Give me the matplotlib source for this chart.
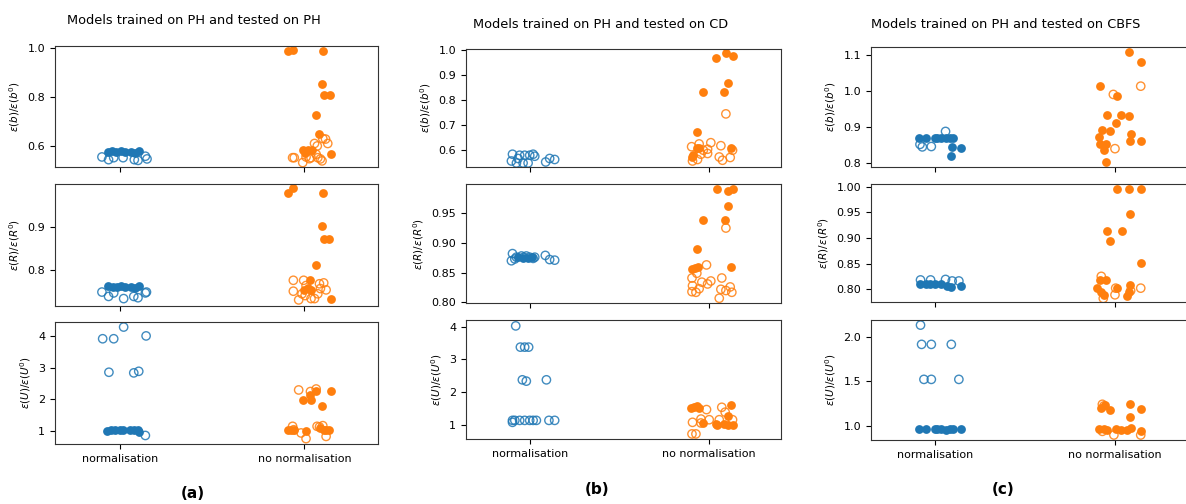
import matplotlib
matplotlib.use("Agg")
import matplotlib.pyplot as plt

W, H = 1186, 504

cases = ["PH", "CD", "CBFS"]
metrics = ["b", "R", "U"]
categories = ["normalisation", "no normalisation"]
panel_letters = ["(a)", "(b)", "(c)"]

# each point: (jitter, value, filled)
PH_b_norm = [(-0.069, 0.576, 1), (-0.045, 0.580, 1), (-0.022, 0.576, 1), (0.004, 0.580, 1),
             (0.027, 0.576, 1), (0.058, 0.576, 1), (0.082, 0.571, 1), (0.100, 0.580, 1),
             (-0.100, 0.555, 0), (-0.064, 0.544, 0), (-0.036, 0.552, 0), (0.015, 0.552, 0),
             (0.076, 0.544, 0), (0.096, 0.541, 0), (0.136, 0.558, 0), (0.145, 0.547, 0)]
PH_b_raw = [(-0.091, 0.988, 1), (-0.064, 0.990, 1), (0.100, 0.988, 1), (0.095, 0.854, 1),
            (0.105, 0.808, 1), (0.138, 0.808, 1), (0.064, 0.725, 1), (0.082, 0.648, 1),
            (-0.009, 0.585, 1), (0.018, 0.585, 1), (0.040, 0.585, 1), (0.004, 0.571, 1),
            (0.145, 0.566, 1),
            (0.055, 0.610, 0), (0.100, 0.630, 0), (0.127, 0.610, 0), (0.115, 0.628, 0),
            (-0.064, 0.552, 0), (-0.009, 0.532, 0), (0.009, 0.555, 0), (0.027, 0.548, 0),
            (0.064, 0.566, 0), (0.073, 0.552, 0), (0.087, 0.547, 0), (0.096, 0.539, 0),
            (0.036, 0.552, 0), (-0.055, 0.552, 0), (0.070, 0.600, 0)]

PH_R_norm = [(-0.069, 0.763, 1), (-0.040, 0.762, 1), (-0.018, 0.762, 1), (0.004, 0.763, 1),
             (0.027, 0.762, 1), (0.058, 0.762, 1), (0.082, 0.760, 1), (0.100, 0.764, 1),
             (-0.100, 0.750, 0), (-0.064, 0.740, 0), (-0.036, 0.748, 0), (0.018, 0.735, 0),
             (0.073, 0.740, 0), (0.096, 0.737, 0), (0.136, 0.748, 0), (0.142, 0.750, 0)]
PH_R_raw = [(-0.087, 0.977, 1), (-0.064, 0.988, 1), (0.100, 0.977, 1), (0.095, 0.902, 1),
            (0.105, 0.872, 1), (0.136, 0.872, 1), (0.064, 0.812, 1), (0.033, 0.778, 1),
            (0.000, 0.755, 1), (0.018, 0.760, 1), (0.036, 0.755, 1), (0.145, 0.735, 1),
            (-0.060, 0.777, 0), (-0.060, 0.752, 0), (-0.004, 0.777, 0), (0.009, 0.765, 0),
            (0.073, 0.746, 0), (0.082, 0.769, 0), (0.105, 0.771, 0), (0.118, 0.755, 0),
            (0.087, 0.758, 0), (-0.031, 0.732, 0), (0.004, 0.742, 0), (0.036, 0.735, 0),
            (0.055, 0.735, 0), (-0.013, 0.746, 0)]

PH_U_norm = [(-0.073, 1.00, 1), (-0.049, 1.03, 1), (-0.027, 1.01, 1), (0.000, 1.01, 1),
             (0.015, 1.03, 1), (0.055, 1.03, 1), (0.073, 1.01, 1), (0.095, 1.01, 1),
             (0.102, 0.95, 1),
             (-0.096, 3.91, 0), (-0.036, 3.91, 0), (0.018, 4.28, 0), (0.140, 4.00, 0),
             (-0.062, 2.85, 0), (0.073, 2.83, 0), (0.100, 2.88, 0), (0.136, 0.85, 0)]
PH_U_raw = [(-0.009, 1.98, 1), (0.036, 1.98, 1), (0.033, 2.13, 1), (0.064, 2.27, 1),
            (0.145, 2.26, 1), (0.095, 1.77, 1), (-0.087, 1.03, 1), (-0.073, 1.03, 1),
            (-0.055, 1.03, 1), (0.009, 0.98, 1), (0.087, 1.08, 1), (0.105, 1.01, 1),
            (0.136, 1.01, 1), (0.118, 1.03, 1),
            (-0.031, 2.29, 0), (0.033, 2.24, 0), (0.064, 2.32, 0), (-0.064, 1.14, 0),
            (-0.058, 1.03, 0), (-0.018, 0.93, 0), (0.009, 0.75, 0), (0.069, 1.14, 0),
            (0.100, 1.16, 0), (0.118, 0.82, 0), (0.082, 1.12, 0)]

CD_b_norm = [(-0.096, 0.585, 0), (-0.102, 0.558, 0), (-0.074, 0.550, 0), (-0.056, 0.581, 0),
             (-0.037, 0.550, 0), (-0.028, 0.581, 0), (-0.009, 0.550, 0), (0.000, 0.581, 0),
             (0.019, 0.585, 0), (0.028, 0.577, 0), (0.089, 0.554, 0), (0.111, 0.568, 0),
             (0.139, 0.564, 0), (-0.065, 0.568, 0)]
CD_b_raw = [(0.037, 0.969, 1), (0.096, 0.991, 1), (0.133, 0.977, 1), (-0.033, 0.835, 1),
            (0.102, 0.868, 1), (0.083, 0.835, 1), (-0.069, 0.673, 1), (-0.093, 0.581, 1),
            (-0.096, 0.574, 1), (-0.069, 0.611, 1), (-0.056, 0.608, 1), (0.120, 0.608, 1),
            (0.093, 0.746, 0), (-0.098, 0.615, 0), (-0.093, 0.558, 0), (-0.065, 0.564, 0),
            (-0.056, 0.626, 0), (-0.033, 0.601, 0), (-0.009, 0.588, 0), (0.009, 0.631, 0),
            (-0.009, 0.605, 0), (0.065, 0.619, 0), (0.056, 0.574, 0), (0.074, 0.561, 0),
            (0.117, 0.572, 0), (0.130, 0.601, 0), (-0.046, 0.585, 0)]

CD_R_norm = [(-0.065, 0.876, 1), (-0.037, 0.875, 1), (-0.009, 0.875, 1), (0.015, 0.876, 1),
             (-0.102, 0.870, 0), (-0.096, 0.882, 0), (-0.074, 0.876, 0), (-0.046, 0.878, 0),
             (-0.033, 0.876, 0), (-0.019, 0.878, 0), (0.000, 0.876, 0), (0.019, 0.874, 0),
             (0.028, 0.876, 0), (0.087, 0.879, 0), (0.111, 0.872, 0), (0.139, 0.871, 0),
             (-0.083, 0.873, 0)]
CD_R_raw = [(0.041, 0.990, 1), (0.102, 0.988, 1), (0.133, 0.990, 1), (0.106, 0.962, 1),
            (0.089, 0.938, 1), (-0.033, 0.938, 1), (-0.069, 0.890, 1), (-0.096, 0.856, 1),
            (-0.078, 0.858, 1), (-0.065, 0.859, 1), (0.120, 0.859, 1),
            (0.093, 0.925, 0), (-0.015, 0.863, 0), (-0.069, 0.849, 0), (-0.096, 0.841, 0),
            (-0.093, 0.828, 0), (-0.096, 0.818, 0), (-0.074, 0.817, 0), (-0.056, 0.823, 0),
            (-0.041, 0.834, 0), (-0.009, 0.831, 0), (0.009, 0.836, 0), (0.070, 0.841, 0),
            (0.065, 0.822, 0), (0.093, 0.820, 0), (0.117, 0.826, 0), (0.126, 0.817, 0),
            (0.056, 0.807, 0)]

CD_U_norm = [(-0.078, 4.02, 0), (-0.052, 3.37, 0), (-0.028, 3.37, 0), (-0.006, 3.37, 0),
             (-0.041, 2.37, 0), (-0.019, 2.33, 0), (0.093, 2.37, 0), (-0.096, 1.13, 0),
             (-0.096, 1.07, 0), (-0.083, 1.13, 0), (-0.056, 1.13, 0), (-0.028, 1.13, 0),
             (0.000, 1.13, 0), (0.019, 1.13, 0), (0.037, 1.13, 0), (0.107, 1.13, 0),
             (0.139, 1.13, 0)]
CD_U_raw = [(-0.102, 1.51, 1), (-0.083, 1.54, 1), (-0.069, 1.56, 1), (-0.059, 1.50, 1),
            (0.120, 1.59, 1), (0.107, 1.27, 1), (-0.033, 1.05, 1), (0.037, 1.02, 1),
            (0.083, 1.03, 1), (0.102, 1.00, 1), (0.130, 1.00, 1), (0.046, 1.00, 1),
            (-0.015, 1.46, 0), (0.070, 1.53, 0), (0.089, 1.38, 0), (-0.046, 1.17, 0),
            (0.000, 1.15, 0), (0.056, 1.15, 0), (-0.093, 1.07, 0), (-0.046, 1.05, 0),
            (0.130, 1.15, 0), (-0.096, 0.715, 0), (-0.074, 0.715, 0)]

CBFS_b_norm = [(-0.089, 0.871, 1), (-0.052, 0.871, 1), (-0.002, 0.871, 1), (0.013, 0.871, 1),
               (0.031, 0.871, 1), (0.059, 0.871, 1), (0.083, 0.871, 1), (0.102, 0.871, 1),
               (0.087, 0.821, 1), (0.096, 0.845, 1), (0.146, 0.843, 1),
               (-0.083, 0.852, 0), (-0.070, 0.845, 0), (-0.020, 0.846, 0), (0.059, 0.888, 0)]
CBFS_b_raw = [(0.078, 1.109, 1), (0.143, 1.081, 1), (-0.083, 1.014, 1), (0.013, 0.987, 1),
              (-0.046, 0.935, 1), (0.035, 0.935, 1), (0.078, 0.931, 1), (0.007, 0.911, 1),
              (-0.070, 0.893, 1), (-0.030, 0.888, 1), (-0.089, 0.872, 1), (-0.083, 0.852, 1),
              (-0.052, 0.854, 1), (-0.061, 0.837, 1), (0.087, 0.882, 1), (0.083, 0.861, 1),
              (0.143, 0.860, 1), (-0.052, 0.803, 1),
              (0.143, 1.014, 0), (-0.009, 0.991, 0), (0.000, 0.840, 0)]

CBFS_R_norm = [(-0.083, 0.810, 1), (-0.052, 0.810, 1), (-0.028, 0.810, 1), (-0.002, 0.810, 1),
               (0.031, 0.810, 1), (0.069, 0.807, 1), (0.087, 0.805, 1), (0.146, 0.807, 1),
               (-0.080, 0.818, 0), (-0.024, 0.818, 0), (0.059, 0.819, 0), (0.096, 0.816, 0),
               (0.133, 0.816, 0)]
CBFS_R_raw = [(0.013, 0.996, 1), (0.078, 0.996, 1), (0.143, 0.996, 1), (0.083, 0.946, 1),
              (-0.046, 0.914, 1), (0.037, 0.914, 1), (-0.030, 0.894, 1), (0.143, 0.851, 1),
              (-0.083, 0.818, 1), (-0.052, 0.818, 1), (-0.098, 0.802, 1), (-0.080, 0.794, 1),
              (-0.061, 0.789, 1), (0.009, 0.803, 1), (0.083, 0.808, 1), (0.078, 0.795, 1),
              (0.069, 0.787, 1),
              (-0.076, 0.825, 0), (-0.065, 0.782, 0), (0.000, 0.789, 0), (0.004, 0.802, 0),
              (0.143, 0.802, 0), (0.087, 0.797, 0)]

CBFS_U_norm = [(-0.089, 0.966, 1), (-0.052, 0.966, 1), (-0.002, 0.966, 1), (0.013, 0.966, 1),
               (0.031, 0.966, 1), (0.059, 0.955, 1), (0.083, 0.966, 1), (0.102, 0.966, 1),
               (0.146, 0.966, 1),
               (-0.080, 2.13, 0), (-0.074, 1.914, 0), (-0.020, 1.914, 0), (0.091, 1.914, 0),
               (-0.061, 1.522, 0), (-0.020, 1.522, 0), (0.133, 1.522, 0)]
CBFS_U_raw = [(-0.080, 1.205, 1), (-0.057, 1.235, 1), (-0.028, 1.18, 1), (0.083, 1.243, 1),
              (0.143, 1.19, 1), (0.083, 1.097, 1), (-0.089, 0.966, 1), (-0.061, 0.966, 1),
              (-0.043, 0.955, 1), (0.004, 0.966, 1), (0.031, 0.955, 1), (0.069, 0.955, 1),
              (0.091, 0.974, 1), (0.143, 0.948, 1),
              (-0.070, 1.243, 0), (-0.061, 1.225, 0), (-0.006, 0.899, 0), (0.143, 0.899, 0),
              (-0.070, 0.940, 0)]

panels = {
    ("PH", "b"): (PH_b_norm, PH_b_raw), ("PH", "R"): (PH_R_norm, PH_R_raw), ("PH", "U"): (PH_U_norm, PH_U_raw),
    ("CD", "b"): (CD_b_norm, CD_b_raw), ("CD", "R"): (CD_R_norm, CD_R_raw), ("CD", "U"): (CD_U_norm, CD_U_raw),
    ("CBFS", "b"): (CBFS_b_norm, CBFS_b_raw), ("CBFS", "R"): (CBFS_R_norm, CBFS_R_raw),
    ("CBFS", "U"): (CBFS_U_norm, CBFS_U_raw),
}

ylims = {
    ("PH", "b"): (0.514, 1.008), ("PH", "R"): (0.718, 0.998), ("PH", "U"): (0.58, 4.44),
    ("CD", "b"): (0.534, 1.005), ("CD", "R"): (0.799, 0.999), ("CD", "U"): (0.56, 4.20),
    ("CBFS", "b"): (0.789, 1.123), ("CBFS", "R"): (0.775, 1.005), ("CBFS", "U"): (0.843, 2.187),
}
yticks = {
    ("PH", "b"): [0.6, 0.8, 1.0], ("PH", "R"): [0.8, 0.9], ("PH", "U"): [1, 2, 3, 4],
    ("CD", "b"): [0.6, 0.7, 0.8, 0.9, 1.0], ("CD", "R"): [0.80, 0.85, 0.90, 0.95], ("CD", "U"): [1, 2, 3, 4],
    ("CBFS", "b"): [0.8, 0.9, 1.0, 1.1], ("CBFS", "R"): [0.80, 0.85, 0.90, 0.95, 1.00],
    ("CBFS", "U"): [1.0, 1.5, 2.0],
}
ytickfmt = {
    ("PH", "b"): "%.1f", ("PH", "R"): "%.1f", ("PH", "U"): "%d",
    ("CD", "b"): "%.1f", ("CD", "R"): "%.2f", ("CD", "U"): "%d",
    ("CBFS", "b"): "%.1f", ("CBFS", "R"): "%.2f", ("CBFS", "U"): "%.1f",
}

# axes boxes in pixels: column x-range and row y-ranges (top, bottom)
col_x = [(55, 378), (466, 781), (871, 1187)]
row_y = [[(46, 167), (184, 306), (322, 444)],
         [(49, 167), (184, 303), (320, 439)],
         [(47, 167), (184, 302), (320, 440)]]
title_pos = [(194, 20), (601, 25), (1006, 25)]
letter_pos = [(193, 493), (597, 490), (1003, 490)]

colors = ["#1f77b4", "#ff7f0e"]

fig = plt.figure(figsize=(W / 100, H / 100), dpi=100)

for c, case in enumerate(cases):
    x0, x1 = col_x[c]
    for r, m in enumerate(metrics):
        top, bot = row_y[c][r]
        ax = fig.add_axes([x0 / W, 1 - bot / H, (x1 - x0) / W, (bot - top) / H])
        for k, pts in enumerate(panels[(case, m)]):
            opn = [p for p in pts if not p[2]]
            fil = [p for p in pts if p[2]]
            ax.scatter([k + p[0] for p in opn], [p[1] for p in opn], s=36,
                       facecolors="none", edgecolors=colors[k], linewidths=1.0, alpha=0.85)
            ax.scatter([k + p[0] for p in fil], [p[1] for p in fil], s=40,
                       color=colors[k], linewidths=0)
        ax.set_xlim(-0.355, 1.40)
        ax.set_ylim(*ylims[(case, m)])
        ax.set_yticks(yticks[(case, m)])
        ax.set_yticklabels([ytickfmt[(case, m)] % v for v in yticks[(case, m)]])
        ax.set_xticks([0, 1])
        if r == 2:
            ax.set_xticklabels(categories)
        else:
            ax.set_xticklabels([])
        ax.tick_params(labelsize=8, length=3.5, width=0.8)
        ax.set_ylabel(r"$\varepsilon(%s)/\varepsilon(%s^0)$" % (m, m), fontsize=7.5)
        for sp in ax.spines.values():
            sp.set_color("#333333")
    fig.text(title_pos[c][0] / W, 1 - title_pos[c][1] / H,
             "Models trained on PH and tested on %s" % case,
             ha="center", va="center", fontsize=9.3)
    fig.text(letter_pos[c][0] / W, 1 - letter_pos[c][1] / H, panel_letters[c],
             ha="center", va="center", fontsize=11, fontweight="bold")

fig.savefig("out.png", dpi=100)
